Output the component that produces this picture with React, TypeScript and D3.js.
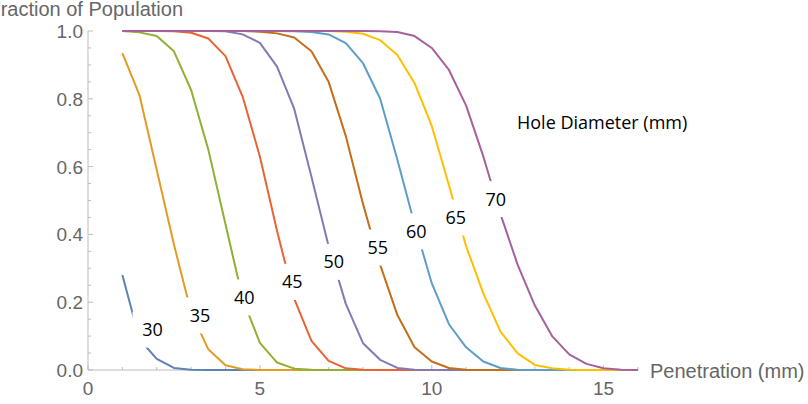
import React from "react";
import * as d3 from "d3";

const penetration = [1, 1.5, 2, 2.5, 3, 3.5, 4, 4.5, 5, 5.5, 6, 6.5, 7, 7.5, 8, 8.5, 9, 9.5, 10, 10.5, 11, 11.5, 12, 12.5, 13, 13.5, 14, 14.5, 15, 15.5, 16];

const diameters = ["30", "35", "40", "45", "50", "55", "60", "65", "70"];

const frac30 = [0.28, 0.09, 0.033, 0.006, 0.001, 0, 0, 0, 0, 0, 0, 0, 0, 0, 0, 0, 0, 0, 0, 0, 0, 0, 0, 0, 0, 0, 0, 0, 0, 0, 0];
const frac35 = [0.935, 0.81, 0.59, 0.37, 0.17, 0.061, 0.014, 0.002, 0, 0, 0, 0, 0, 0, 0, 0, 0, 0, 0, 0, 0, 0, 0, 0, 0, 0, 0, 0, 0, 0, 0];
const frac40 = [1, 0.996, 0.985, 0.94, 0.826, 0.65, 0.43, 0.21, 0.08, 0.022, 0.004, 0.001, 0, 0, 0, 0, 0, 0, 0, 0, 0, 0, 0, 0, 0, 0, 0, 0, 0, 0, 0];
const frac45 = [1, 1, 1, 0.999, 0.995, 0.978, 0.926, 0.806, 0.63, 0.41, 0.21, 0.086, 0.027, 0.005, 0.001, 0, 0, 0, 0, 0, 0, 0, 0, 0, 0, 0, 0, 0, 0, 0, 0];
const frac50 = [1, 1, 1, 1, 1, 1, 0.999, 0.99, 0.965, 0.895, 0.77, 0.57, 0.365, 0.195, 0.079, 0.03, 0.006, 0.001, 0, 0, 0, 0, 0, 0, 0, 0, 0, 0, 0, 0, 0];
const frac55 = [1, 1, 1, 1, 1, 1, 1, 1, 0.998, 0.993, 0.981, 0.94, 0.85, 0.69, 0.49, 0.31, 0.162, 0.067, 0.025, 0.006, 0.001, 0, 0, 0, 0, 0, 0, 0, 0, 0, 0];
const frac60 = [1, 1, 1, 1, 1, 1, 1, 1, 1, 1, 0.999, 0.997, 0.99, 0.964, 0.905, 0.8, 0.62, 0.43, 0.256, 0.135, 0.067, 0.025, 0.006, 0.001, 0, 0, 0, 0, 0, 0, 0];
const frac65 = [1, 1, 1, 1, 1, 1, 1, 1, 1, 1, 1, 1, 1, 0.998, 0.992, 0.973, 0.929, 0.846, 0.72, 0.545, 0.365, 0.226, 0.113, 0.049, 0.015, 0.005, 0.001, 0, 0, 0, 0];
const frac70 = [1, 1, 1, 1, 1, 1, 1, 1, 1, 1, 1, 1, 1, 1, 1, 0.999, 0.997, 0.985, 0.95, 0.885, 0.78, 0.63, 0.46, 0.31, 0.19, 0.1, 0.046, 0.018, 0.005, 0.001, 0];

const seriesValues = [frac30, frac35, frac40, frac45, frac50, frac55, frac60, frac65, frac70];

const seriesColors = ["#5E81B5", "#E19C24", "#8FB032", "#EB6235", "#8778B3", "#C56E1A", "#5D9EC7", "#FFBF00", "#A5609D"];

// label anchor positions in data coordinates
const labelX = [1.876, 3.258, 4.547, 5.94, 7.15, 8.43, 9.55, 10.7, 11.86];
const labelY = [0.119, 0.161, 0.214, 0.26, 0.319, 0.361, 0.409, 0.45, 0.504];

const xMajorTicks = [0, 5, 10, 15];
const xMinorTicks = [1, 2, 3, 4, 6, 7, 8, 9, 11, 12, 13, 14, 16];
const yMajorTicks = [0, 0.2, 0.4, 0.6, 0.8, 1.0];
const yMinorTicks = [0.05, 0.1, 0.15, 0.25, 0.3, 0.35, 0.45, 0.5, 0.55, 0.65, 0.7, 0.75, 0.85, 0.9, 0.95];

const W = 808;
const H = 404;

export default function App() {
  const x = d3.scaleLinear().domain([0, 16]).range([88, 638]);
  const y = d3.scaleLinear().domain([0, 1]).range([370, 31]);
  const line = d3
    .line<[number, number]>()
    .x((d) => x(d[0]))
    .y((d) => y(d[1]));

  const axisColor = "#bdbdbd";
  const tickFont = "'Liberation Sans', Arial, sans-serif";
  const labelFont = "'Open Sans', sans-serif";

  return (
    <div style={{ position: "fixed", left: 0, top: 0 }}>
      <svg width={W} height={H} style={{ display: "block", background: "#fff" }}>
        {/* axes */}
        <line x1={x(0)} x2={x(16)} y1={y(0)} y2={y(0)} stroke={axisColor} strokeWidth={1} />
        <line x1={x(0)} x2={x(0)} y1={y(0)} y2={y(1)} stroke={axisColor} strokeWidth={1} />
        {xMajorTicks.map((t) => (
          <g key={"xm" + t}>
            <line x1={x(t)} x2={x(t)} y1={y(0)} y2={y(0) - 5} stroke={axisColor} />
            <text x={x(t)} y={395} textAnchor="middle" fontFamily={tickFont} fontSize={19} fill="#666">
              {d3.format("d")(t)}
            </text>
          </g>
        ))}
        {xMinorTicks.map((t) => (
          <line key={"xn" + t} x1={x(t)} x2={x(t)} y1={y(0)} y2={y(0) - 3} stroke={axisColor} />
        ))}
        {yMajorTicks.map((t) => (
          <g key={"ym" + t}>
            <line x1={x(0)} x2={x(0) + 5} y1={y(t)} y2={y(t)} stroke={axisColor} />
            <text x={83} y={y(t) + 7} textAnchor="end" fontFamily={tickFont} fontSize={19} fill="#666">
              {d3.format(".1f")(t)}
            </text>
          </g>
        ))}
        {yMinorTicks.map((t) => (
          <line key={"yn" + t} x1={x(0)} x2={x(0) + 3} y1={y(t)} y2={y(t)} stroke={axisColor} />
        ))}
        <text x={183} y={16} textAnchor="end" fontFamily={tickFont} fontSize={20} fill="#666">
          Fraction of Population
        </text>
        <text x={650} y={378} textAnchor="start" fontFamily={tickFont} fontSize={20} fill="#666">
          Penetration (mm)
        </text>

        {/* curves */}
        {seriesValues.map((vals, i) => (
          <path
            key={"s" + i}
            d={line(penetration.map((p, j) => [p, vals[j]] as [number, number])) || ""}
            fill="none"
            stroke={seriesColors[i]}
            strokeWidth={2}
            strokeLinejoin="round"
          />
        ))}

        {/* labels */}
        {diameters.map((d, i) => (
          <g key={"l" + i}>
            <rect x={x(labelX[i]) - 20} y={y(labelY[i]) - 18} width={40} height={36} fill="#fff" />
            <text
              x={x(labelX[i])}
              y={y(labelY[i]) + 6.5}
              textAnchor="middle"
              fontFamily={labelFont}
              fontSize={18}
              fill="#000"
            >
              {d}
            </text>
          </g>
        ))}
        <text x={517} y={129} fontFamily={labelFont} fontSize={18} fill="#000">
          Hole Diameter (mm)
        </text>
      </svg>
    </div>
  );
}
